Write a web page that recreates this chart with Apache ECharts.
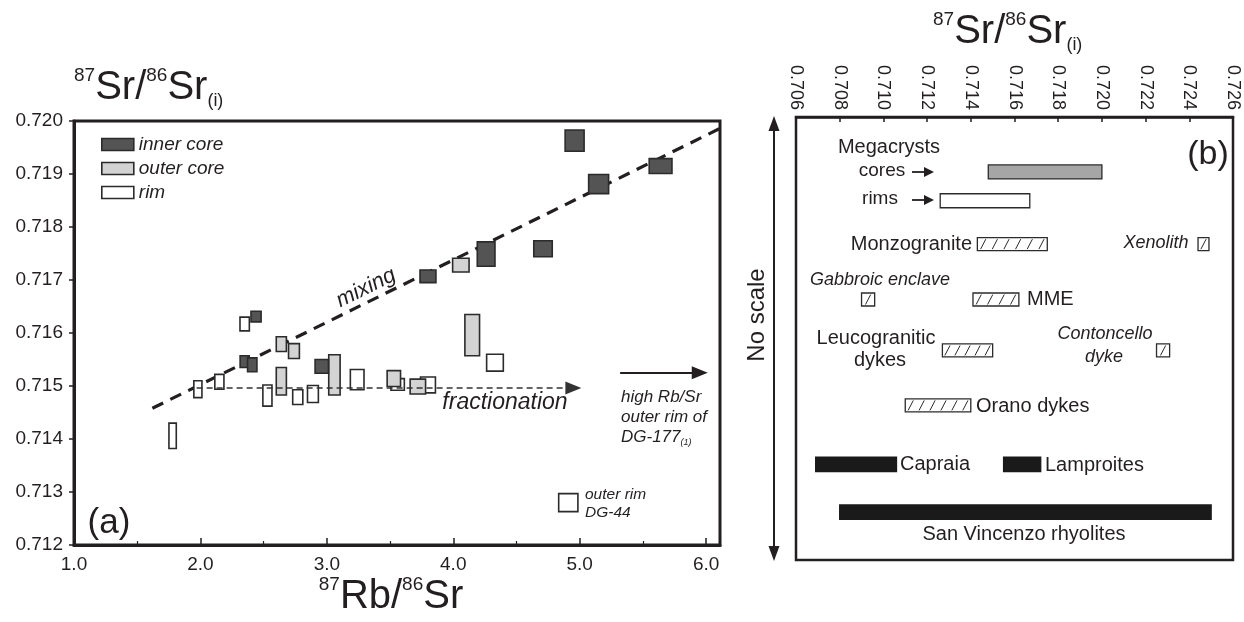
<!DOCTYPE html>
<html>
<head>
<meta charset="utf-8">
<title>Sr isotopes of K-feldspar megacrysts</title>
<script src="https://cdn.jsdelivr.net/npm/echarts@6/dist/echarts.min.js"></script>
<style>
  html, body { margin: 0; padding: 0; background: #fff; }
  #chart { width: 1244px; height: 622px; }
</style>
</head>
<body>
<div id="chart"></div>
<script>
// ---- Panel (a): 87Rb/86Sr vs 87Sr/86Sr(i); each analysis is a box (centre ± half-width) ----
const innerCoreRbSr  = [4.96, 5.15, 5.64, 4.26, 4.71, 3.80, 2.44, 2.35, 2.41, 2.96];
const innerCoreSr    = [0.71963, 0.71881, 0.71915, 0.71749, 0.71759, 0.71707, 0.71631, 0.71546, 0.71540, 0.71537];
const innerCoreErrRb = [0.075, 0.079, 0.090, 0.070, 0.073, 0.063, 0.040, 0.036, 0.037, 0.053];
const innerCoreErrSr = [0.00020, 0.00018, 0.00014, 0.00023, 0.00015, 0.00012, 0.00010, 0.00011, 0.00013, 0.00013];

const outerCoreRbSr  = [4.06, 4.15, 2.64, 2.74, 2.64, 3.06, 3.53, 3.72];
const outerCoreSr    = [0.71728, 0.71596, 0.71579, 0.71566, 0.71509, 0.71521, 0.71514, 0.71499];
const outerCoreErrRb = [0.065, 0.058, 0.040, 0.043, 0.040, 0.045, 0.053, 0.061];
const outerCoreErrSr = [0.00013, 0.00039, 0.00014, 0.00014, 0.00026, 0.00038, 0.00015, 0.00014];

const rimRbSr  = [4.33, 3.24, 3.56, 3.80, 2.35, 1.98, 2.15, 2.53, 2.77, 2.89, 1.78, 4.91];
const rimSr    = [0.71544, 0.71512, 0.71503, 0.71502, 0.71617, 0.71494, 0.71508, 0.71482, 0.71479, 0.71485, 0.71406, 0.71280];
const rimErrRb = [0.066, 0.054, 0.053, 0.059, 0.037, 0.032, 0.036, 0.036, 0.040, 0.043, 0.029, 0.076];
const rimErrSr = [0.00016, 0.00019, 0.00011, 0.00015, 0.00013, 0.00016, 0.00014, 0.00020, 0.00014, 0.00016, 0.00024, 0.00017];

// trend lines: [Rb/Sr, Sr] end points
const mixingLine        = [[1.62, 0.71458], [6.11, 0.71986]];
const fractionationLine = [[1.97, 0.71496], [4.95, 0.71496]];
const highRbSrArrow     = [[5.32, 0.71525], [5.95, 0.71525]];

const rbSrTicks = [1, 2, 3, 4, 5, 6];
const srTicksA  = [0.712, 0.713, 0.714, 0.715, 0.716, 0.717, 0.718, 0.719, 0.720];

// ---- Panel (b): 87Sr/86Sr(i) ranges of related rocks (vertical axis has no scale) ----
const refGroups = ['Megacrysts cores', 'Megacrysts rims', 'Monzogranite', 'Xenolith', 'Gabbroic enclave', 'MME',
                   'Leucogranitic dykes', 'Contoncello dyke', 'Orano dykes', 'Capraia', 'Lamproites', 'San Vincenzo rhyolites'];
const refSrMin = [0.7148, 0.7126, 0.7143, 0.7244, 0.7090, 0.7141, 0.7127, 0.7225, 0.7110, 0.7069, 0.7155, 0.7080];
const refSrMax = [0.7200, 0.7167, 0.7175, 0.7249, 0.7096, 0.7162, 0.7150, 0.7231, 0.7140, 0.7106, 0.7172, 0.7250];
const refRow   = [12.4, 18.9, 28.7, 28.7, 41.2, 41.2, 52.7, 52.7, 65.1, 78.4, 78.4, 89.2];
const refKind  = ['core', 'rim', 'hatch', 'hatch', 'hatch', 'hatch', 'hatch', 'hatch', 'hatch', 'solid', 'solid', 'solid'];
const srTicksB = [0.706, 0.708, 0.710, 0.712, 0.714, 0.716, 0.718, 0.720, 0.722, 0.724, 0.726];

// ---- styling ----
const INK = '#231f20';
const FONT = '"Liberation Sans", Arial, Helvetica, sans-serif';
const DARK = '#545454', LIGHT = '#d3d3d3', OPEN = '#ffffff';

function zipBoxes(xs, ys, dxs, dys) {
  return xs.map((x, i) => [x, ys[i], dxs[i], dys[i]]);
}

// rectangle spanning centre ± half-widths on both axes
function boxRenderer(fill) {
  return function (params, api) {
    const x = api.value(0), y = api.value(1), dx = api.value(2), dy = api.value(3);
    const p1 = api.coord([x - dx, y + dy]);
    const p2 = api.coord([x + dx, y - dy]);
    return {
      type: 'rect',
      shape: { x: p1[0], y: p1[1], width: p2[0] - p1[0], height: p2[1] - p1[1] },
      style: { fill: fill, stroke: '#2b2b2b', lineWidth: 1.6 }
    };
  };
}

// horizontal range bar for panel (b)
function rangeRenderer(fill, height, hatch) {
  return function (params, api) {
    const a = api.coord([api.value(0), api.value(2)]);
    const b = api.coord([api.value(1), api.value(2)]);
    const x = a[0], w = b[0] - a[0], y = a[1] - height / 2;
    const children = [{
      type: 'rect',
      shape: { x: x, y: y, width: w, height: height },
      style: { fill: fill, stroke: hatch || fill === OPEN || fill === '#a6a6a6' ? '#2b2b2b' : fill, lineWidth: 1.3 }
    }];
    if (hatch) {
      const n = Math.max(1, Math.round(w / 11));
      const step = w / n;
      for (let i = 0; i < n; i++) {
        const cx = x + step * (i + 0.5);
        children.push({
          type: 'line',
          shape: { x1: cx - 2.6, y1: y + height - 1.5, x2: cx + 2.6, y2: y + 1.5 },
          style: { stroke: '#2b2b2b', lineWidth: 1 }
        });
      }
    }
    return { type: 'group', children: children };
  };
}

function refData(kind) {
  const out = [];
  refKind.forEach((k, i) => { if (k === kind) out.push([refSrMin[i], refSrMax[i], refRow[i], refGroups[i]]); });
  return out;
}

// text helpers
function txt(x, y, s, size, opts) {
  opts = opts || {};
  return {
    type: 'text', x: x, y: y, rotation: opts.rotation || 0, silent: true,
    style: {
      text: s, fontSize: size, fontFamily: FONT, fontStyle: opts.italic ? 'italic' : 'normal',
      fill: INK, align: opts.align || 'center', verticalAlign: opts.valign || 'middle',
      rich: opts.rich, lineHeight: opts.lineHeight
    }
  };
}
function srTitleRich(big, small) {
  return {
    m: { fontSize: big, lineHeight: big + 4, fontFamily: FONT, fill: INK },
    p: { fontSize: small, lineHeight: small, verticalAlign: 'top', fontFamily: FONT, fill: INK },
    b: { fontSize: small - 1, lineHeight: small - 1, verticalAlign: 'bottom', fontFamily: FONT, fill: INK }
  };
}
function arrowRight(x1, x2, y, head, h, lw) {
  return {
    type: 'group', silent: true, children: [
      { type: 'line', shape: { x1: x1, y1: y, x2: x2 - head + 1, y2: y }, style: { stroke: INK, lineWidth: lw } },
      { type: 'polygon', shape: { points: [[x2, y], [x2 - head, y - h / 2], [x2 - head, y + h / 2]] }, style: { fill: INK } }
    ]
  };
}

const chart = echarts.init(document.getElementById('chart'), null, { renderer: 'canvas' });

const option = {
  animation: false,
  backgroundColor: '#ffffff',
  textStyle: { fontFamily: FONT, color: INK },
  grid: [
    { left: 74, top: 121, width: 646, height: 424, show: true, borderColor: INK, borderWidth: 3,
      backgroundColor: 'transparent', containLabel: false, outerBoundsMode: 'none' },
    { left: 796, top: 117, width: 437, height: 443, show: true, borderColor: INK, borderWidth: 2.5,
      backgroundColor: 'transparent', containLabel: false, outerBoundsMode: 'none' }
  ],
  legend: {
    orient: 'vertical', left: 96, top: 130, itemWidth: 32, itemHeight: 12, itemGap: 5,
    icon: 'rect', selectedMode: false,
    textStyle: { fontSize: 19, fontStyle: 'italic', color: INK, fontFamily: FONT, padding: [0, 0, 0, 0] },
    data: [
      { name: 'inner core', itemStyle: { color: DARK, borderColor: '#2b2b2b', borderWidth: 1.6 } },
      { name: 'outer core', itemStyle: { color: LIGHT, borderColor: '#2b2b2b', borderWidth: 1.6 } },
      { name: 'rim', itemStyle: { color: OPEN, borderColor: '#2b2b2b', borderWidth: 1.6 } }
    ]
  },
  xAxis: [
    {
      type: 'value', gridIndex: 0, min: rbSrTicks[0], max: 6.11, interval: 1,
      axisLine: { show: true, lineStyle: { color: INK, width: 3 } },
      axisTick: { show: true, inside: true, length: 7, lineStyle: { color: INK, width: 1.5 } },
      minorTick: { show: true, splitNumber: 2, length: 4, lineStyle: { color: INK, width: 1.2 } },
      splitLine: { show: false }, minorSplitLine: { show: false },
      axisLabel: { fontSize: 19, color: INK, fontFamily: FONT, margin: 10, showMaxLabel: false,
        formatter: v => rbSrTicks.includes(Math.round(v * 100) / 100) ? v.toFixed(1) : '' }
    },
    {
      type: 'value', gridIndex: 1, position: 'top', min: srTicksB[0], max: srTicksB[srTicksB.length - 1], interval: 0.002,
      axisLine: { show: true, lineStyle: { color: INK, width: 2.5 } },
      axisTick: { show: true, inside: true, length: 5, lineStyle: { color: INK, width: 1.5 } },
      splitLine: { show: false },
      axisLabel: { fontSize: 18, color: INK, fontFamily: FONT, rotate: -90, margin: 7,
        formatter: v => v.toFixed(3) }
    }
  ],
  yAxis: [
    {
      type: 'value', gridIndex: 0, min: srTicksA[0], max: srTicksA[srTicksA.length - 1], interval: 0.001,
      axisLine: { show: true, lineStyle: { color: INK, width: 3 } },
      axisTick: { show: true, inside: false, length: 5, lineStyle: { color: INK, width: 1.5 } },
      splitLine: { show: false },
      axisLabel: { fontSize: 19, color: INK, fontFamily: FONT, margin: 11, formatter: v => v.toFixed(3) }
    },
    { type: 'value', gridIndex: 1, min: 0, max: 100, inverse: true, show: false }
  ],
  series: [
    {
      name: 'mixing', type: 'line', xAxisIndex: 0, yAxisIndex: 0, data: mixingLine, symbol: 'none', silent: true,
      lineStyle: { color: INK, width: 3.2, type: [12, 8] }, z: 1,
      markLine: {
        silent: true, symbol: ['none', 'triangle'], symbolSize: [13, 16], label: { show: false },
        data: [
          [{ coord: fractionationLine[0], lineStyle: { color: '#333', width: 1.5, type: [6, 4] } }, { coord: fractionationLine[1] }],
          [{ coord: highRbSrArrow[0], lineStyle: { color: INK, width: 2, type: 'solid' } }, { coord: highRbSrArrow[1] }]
        ]
      }
    },
    { name: 'rim', type: 'custom', xAxisIndex: 0, yAxisIndex: 0, renderItem: boxRenderer(OPEN),
      itemStyle: { color: OPEN }, data: zipBoxes(rimRbSr, rimSr, rimErrRb, rimErrSr), z: 3 },
    { name: 'outer core', type: 'custom', xAxisIndex: 0, yAxisIndex: 0, renderItem: boxRenderer(LIGHT),
      itemStyle: { color: LIGHT }, data: zipBoxes(outerCoreRbSr, outerCoreSr, outerCoreErrRb, outerCoreErrSr), z: 4 },
    { name: 'inner core', type: 'custom', xAxisIndex: 0, yAxisIndex: 0, renderItem: boxRenderer(DARK),
      itemStyle: { color: DARK }, data: zipBoxes(innerCoreRbSr, innerCoreSr, innerCoreErrRb, innerCoreErrSr), z: 5 },

    { name: 'megacryst cores', type: 'custom', xAxisIndex: 1, yAxisIndex: 1, renderItem: rangeRenderer('#a6a6a6', 14, false), data: refData('core') },
    { name: 'megacryst rims', type: 'custom', xAxisIndex: 1, yAxisIndex: 1, renderItem: rangeRenderer(OPEN, 14, false), data: refData('rim') },
    { name: 'granitoids and dykes', type: 'custom', xAxisIndex: 1, yAxisIndex: 1, renderItem: rangeRenderer(OPEN, 13, true), data: refData('hatch') },
    { name: 'volcanics', type: 'custom', xAxisIndex: 1, yAxisIndex: 1, renderItem: rangeRenderer('#1a1a1a', 14.5, false), data: refData('solid') }
  ],
  graphic: [
    // axis titles
    txt(74, 66, '{p|87}{m|Sr/}{p|86}{m|Sr}{b|(i)}', 40, { align: 'left', valign: 'top', rich: srTitleRich(40, 19) }),
    txt(933, 10, '{p|87}{m|Sr/}{p|86}{m|Sr}{b|(i)}', 40, { align: 'left', valign: 'top', rich: srTitleRich(40, 19) }),
    txt(391, 575, '{p|87}{m|Rb/}{p|86}{m|Sr}', 40, { align: 'center', valign: 'top', rich: srTitleRich(40, 19) }),

    // panel (a) annotations
    txt(366, 288, 'mixing', 22, { italic: true, rotation: 0.459 }),
    txt(505, 403, 'fractionation', 23, { italic: true }),
    txt(621, 387, '{t|high Rb/Sr}\n{t|outer rim of}\n{t|DG-177}{s|(1)}', 17, { italic: true, align: 'left', valign: 'top',
      rich: { t: { fontSize: 17, lineHeight: 20, fontStyle: 'italic', fontFamily: FONT, fill: INK },
              s: { fontSize: 9, lineHeight: 9, verticalAlign: 'bottom', fontStyle: 'italic', fontFamily: FONT, fill: INK } } }),
    txt(585, 495, 'outer rim', 15.5, { italic: true, align: 'left' }),
    txt(585, 513, 'DG-44', 15.5, { italic: true, align: 'left' }),
    txt(109, 523, '(a)', 35),

    // panel (b) annotations
    txt(1208, 155, '(b)', 34),
    txt(757, 315, 'No scale', 24, { rotation: Math.PI / 2 }),
    {
      type: 'group', silent: true, children: [
        { type: 'line', shape: { x1: 774, y1: 128, x2: 774, y2: 549 }, style: { stroke: INK, lineWidth: 2 } },
        { type: 'polygon', shape: { points: [[774, 116], [768.5, 131], [779.5, 131]] }, style: { fill: INK } },
        { type: 'polygon', shape: { points: [[774, 561], [768.5, 546], [779.5, 546]] }, style: { fill: INK } }
      ]
    },
    txt(889, 147, 'Megacrysts', 20),
    txt(882, 171, 'cores', 19),
    arrowRight(912, 934, 172, 10, 10, 1.8),
    txt(880, 199, 'rims', 19),
    arrowRight(912, 934, 200, 10, 10, 1.8),
    txt(972, 244, 'Monzogranite', 20, { align: 'right' }),
    txt(1156, 243, 'Xenolith', 18, { italic: true }),
    txt(880, 280, 'Gabbroic enclave', 18, { italic: true }),
    txt(1027, 299, 'MME', 20, { align: 'left' }),
    txt(876, 338, 'Leucogranitic', 20),
    txt(880, 360, 'dykes', 20),
    txt(1105, 334, 'Contoncello', 18, { italic: true }),
    txt(1104, 357, 'dyke', 18, { italic: true }),
    txt(976, 406, 'Orano dykes', 20, { align: 'left' }),
    txt(900, 464, 'Capraia', 20, { align: 'left' }),
    txt(1045, 465, 'Lamproites', 20, { align: 'left' }),
    txt(1024, 534, 'San Vincenzo rhyolites', 20)
  ]
};

chart.setOption(option);
</script>
</body>
</html>
